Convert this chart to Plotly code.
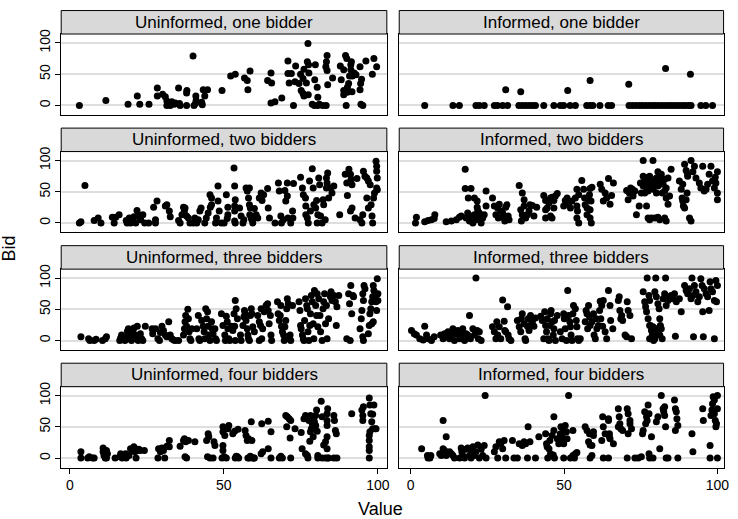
import plotly.graph_objects as go

titles = ["Uninformed, one bidder", "Informed, one bidder",
          "Uninformed, two bidders", "Informed, two bidders",
          "Uninformed, three bidders", "Informed, three bidders",
          "Uninformed, four bidders", "Informed, four bidders"]

uninformed_one = [(3.1,0),(11.7,8),(18.9,2),(22.7,2),(25.7,2),(21.9,15),(28.4,28),(28.4,15),(30.1,18),(31,14),
(31.5,7),(31.5,0),(32.6,0),(33.1,6),(33.9,2),(35.3,28),(34.2,4),(35.8,0),(35.6,3),(37.9,20),(38,24),(37.9,0),
(40,79),(40.3,0),(40.8,3),(41,8),(40.9,15),(43.3,25),(44.7,25),(42.8,5),(43,1),(43.8,15),(49.4,24),(52.2,47),
(53.7,50),(56.7,44),(57.6,40),(58.5,55),(57.8,25),(64.2,40),(65.3,52),(65.5,36),(65.3,4),(66.6,6),(68.8,12),
(70.8,71),(70.8,51),(71.9,51),(73.3,63),(71.2,36),(73.1,38),(72.6,0),(74.4,35),(74.9,50),(75.7,43),(76,58),
(77.3,99),(77.1,70),(77.5,65),(77.6,52),(76.8,36),(75.1,24),(75.7,19),(76,15),(77.4,17),(78.7,2),(79.4,0),
(80.5,0),(81,2),(82.1,0),(83.2,0),(79.7,65),(80.3,29),(80.5,13),(79.5,41),(83.3,70),(83.5,80),(83.1,62),
(83.5,56),(83.7,33),(85.3,44),(87.8,63),(88.1,41),(88.9,57),(88.9,24),(88.9,17),(89.5,80),(89.9,75),(89.7,0),
(90.1,29),(90.5,35),(90.8,47),(91.2,57),(91.4,70),(91.7,47),(91.6,22),(92.3,52),(92.9,49),(91.2,65),(94.2,25),
(94.4,35),(94.7,42),(94.5,2),(95.1,0),(94.2,62),(96.1,71),(98.2,50),(98.7,75),(99.6,62),(90.1,21)]

informed_one = [(4.6,0),(13.8,0),(15.9,0),(21.3,0),(22.4,0),(24,0),(27.3,0),(28.3,0),(30,0),(31.6,0),(35.3,0),
(36.4,0),(37.5,0),(38.6,0),(39.7,0),(40.7,0),(43.4,0),(46.7,0),(48.8,0),(49.9,0),(52,0),(53.7,0),(57.4,0),
(58.5,0),(59.4,0),(61.7,0),(64.4,0),(65.5,0),(71.2,0),(72.3,0),(73.4,0),(74.5,0),(75.5,0),(76.6,0),(77.7,0),
(78.8,0),(79.8,0),(80.9,0),(82,0),(83.1,0),(84.2,0),(85.2,0),(86.3,0),(87.4,0),(88.5,0),(89.5,0),(90.6,0),
(91.4,0),(94.6,0),(96.2,0),(98.4,0),(31,25),(35.9,22),(51.2,24),(58.5,40),(71.1,34),(83.1,59),(91.2,50)]

uninformed_two = [(3.1,0),(3.6,2),(4.9,60),(7.9,4),(9.2,8),(10.1,0),(13.8,9),(14.4,0),(14.9,9),(16,13),
(18.3,4),(18.6,0),(19.3,8),(19.7,0),(20,5),(20.8,10),(21.4,0),(21.8,20),(22.3,13),(22.7,8),(23,5),
(23.7,13),(24.3,0),(25.6,0),(27.2,25),(28.3,35),(27.8,5),(27.8,0),(31,27),(31.5,29),(32.3,19),(32.6,10),
(35.3,4),(35.8,0),(36.4,13),(36.9,25),(37.4,24),(37.2,19),(37.9,11),(38.5,8),(39,0),(40.1,0),(40.6,8),(41.2,0),
(41.7,5),(42.2,19),(42.6,24),(43.8,0),(44.3,8),(44.9,16),(45.6,25),(46,29),(46,40),(45.5,45),(47.3,0),(47.6,8),
(48.1,59),(48.1,35),(48.5,19),(49.2,0),(50.1,0),(50.8,45),(51.3,25),(51.3,13),(51.1,7),(53.3,88),(53.5,59),
(53.7,37),(53.5,27),(53.5,19),(53.5,3),(53.7,0),(55.1,24),(55.6,11),(56.2,0),(56.5,5),(57.2,56),(57.6,51),
(58,40),(58.3,56),(58.3,29),(58.6,24),(58.4,13),(58.9,8),(59.1,5),(59.4,0),(59.9,23),(60.5,13),(61,8),
(61.5,40),(62.1,48),(62.4,36),(62.9,45),(64.2,55),(64.8,8),(64.4,24),(66.6,0),(67.7,64),(68,51),(68.5,11),
(68.7,0),(69.3,5),(69.8,52),(70.1,35),(70.6,64),(70.6,43),(70.8,8),(71.7,0),(72.4,8),(72.6,63),(72.3,19),
(74.9,73),(75.5,56),(75.8,45),(76.6,27),(76.5,40),(76.6,13),(77.1,8),(77.4,0),(77.8,67),(78.1,19),(78.7,87),
(79,56),(79.2,29),(79.8,24),(80.1,36),(80.3,0),(80.5,13),(80.8,72),(81.1,61),(81.4,11),(81.9,0),(82.2,37),
(82.4,29),(82.9,5),(83.3,72),(83.5,64),(84,40),(84.6,56),(85.1,48),(85.7,59),(83.7,80),(83.3,56),(87.6,13),
(89.4,78),(89.9,64),(90.1,44),(90.6,86),(91.1,78),(91.3,70),(91.6,61),(91.1,19),(91.6,24),(92.6,8),(93.2,71),
(94.2,5),(94.8,0),(95.1,13),(95.3,83),(95.8,75),(96.4,72),(96.9,67),(96.4,40),(96.9,24),(97.5,61),(97.8,29),
(98.1,11),(98.3,0),(98.6,40),(98.9,48),(99.4,99),(99.6,91),(99.6,83),(99.8,72),(99.6,56),(99.8,53)]

informed_two = [(1.9,9),(1.6,0),(4.6,2),(5.7,4),(6.8,5),(7.9,13),(7.7,7),(11.6,2),(13.3,3),(14.9,5),(15.9,9),
(16.5,11),(17.8,86),(17.8,55),(19.7,55),(18.1,8),(18.6,16),(19.2,3),(19.7,11),(20.3,0),(20.8,13),(21.3,5),
(21.7,25),(21.9,20),(22.1,8),(22.4,16),(23,0),(23.5,8),(24,13),(24.6,27),(24.6,51),(18.8,40),(20.8,40),(21.7,35),
(26.7,40),(27.3,27),(27.8,13),(28.4,24),(28.6,8),(28.9,30),(29.4,19),(30,16),(30.5,8),(30.7,3),(31,25),(31.4,29),
(31.8,11),(32.1,5),(35.4,60),(35.9,21),(36.4,48),(37,37),(37,27),(36.4,13),(36.1,3),(37.5,8),(38.1,13),(38.6,19),
(38.9,29),(39.7,28),(40.2,11),(41.1,25),(43.4,44),(44,36),(44.5,24),(45.1,32),(45.6,40),(46.1,41),(46.7,36),
(47.2,43),(47.8,47),(44,8),(45.6,11),(46.1,8),(44,21),(46.7,24),(49.9,27),(50.4,36),(51,40),(51.5,30),(52.1,24),
(52.6,35),(53.7,40),(54.2,27),(54.4,19),(54.8,45),(54.2,54),(54.2,8),(54.8,0),(55.8,68),(56.4,54),(56.7,40),
(56.9,29),(57.5,24),(57.5,13),(58,37),(58.3,45),(58.5,55),(59.1,57),(58.8,35),(58.5,8),(58.9,0),(58.5,21),
(61.8,62),(62.3,54),(62.8,35),(63.4,48),(63.9,40),(64.5,71),(65,30),(65.5,44),(66.1,64),(70.4,52),(70.9,37),
(71.3,48),(71.7,56),(72.3,54),(72.5,43),(73.1,51),(73.6,13),(74.5,27),(75.2,48),(75.8,59),(76.3,70),(76.9,27),
(77.4,8),(75.8,100),(79,100),(77.9,5),(78.5,8),(79.6,8),(80.6,9),(81.2,5),(82.8,8),(83.3,3),(74.9,64),(75.8,75),
(76.3,62),(76.9,56),(77.4,73),(77.9,64),(78.5,68),(79,54),(79.6,62),(80.1,72),(80.6,82),(81.2,64),(81.7,78),
(82.3,62),(82.8,70),(83.3,56),(83.9,72),(84.4,43),(84.9,86),(83.3,40),(82.8,51),(83.9,30),(80.1,48),(82,48),
(76.9,70),(77.9,75),(78.5,59),(79.6,67),(80.6,59),(81.7,70),(77.4,51),(76.3,48),
(87.6,67),(88.2,54),(88.5,40),(88.7,35),(88.9,27),(89.3,24),(89.8,37),(90.1,48),(90.3,78),(90.9,8),(91.4,3),
(88.7,62),(89.3,94),(89.8,84),(90.3,75),(91.4,100),(92,82),(92.5,91),(93,72),(94.1,64),(94.6,56),(95.2,91),
(95.7,51),(96.3,54),(96.8,62),(97.3,78),(97.9,91),(98.4,67),(99,56),(99.3,73),(99.5,64),(100,48),(100,37),(100,82)]

uninformed_three = [(3.6,6),(6.1,3),(6.5,0),(7.9,0),(8.5,2),(10.6,0),(11.5,3),(11.9,6),(16.2,0),(16.5,4),(16.8,9),
(17.6,3),(17.9,0),(18.3,5),(18.7,15),(19,19),(19.2,9),(19.7,3),(20,0),(20.5,14),(20.8,20),(21.1,9),(21.5,3),
(21.9,23),(22.2,0),(22.4,6),(22.9,11),(23.3,3),(23.7,0),(24.5,23),(26.7,19),(26.9,11),(27.8,19),(28.6,3),(29.1,0),
(29.4,13),(29.9,23),(30.4,16),(31,9),(31.5,6),(32.1,30),(32.6,9),(33.1,3),(33.7,1),(34.2,0),(35.3,0),(36.9,9),
(37.2,19),(37.4,30),(37.6,40),(37.9,23),(38.3,50),(38.5,35),(38.7,14),(39,3),(39.3,0),(39.6,19),(41.2,19),(41.7,40),
(41.9,3),(42.2,0),(42.8,32),(43.3,23),(43.6,14),(43.8,3),(44.1,51),(44.4,35),(44.7,46),(44.9,23),(45.1,9),(45.5,0),
(46,30),(46.2,19),(46.5,11),(47.1,19),(47.3,3),(47.6,0),(49.2,43),(49.7,24),(50.3,9),(50.5,0),(50.8,39),(51.1,30),
(51.3,19),(51.6,3),(51.9,0),(52.4,23),(52.9,16),(53.3,43),(53.7,64),(54,51),(54.4,35),(53.5,23),(53.7,0),(55.4,9),
(55.6,0),(56.2,24),(56.5,38),(56.7,48),(56.9,43),(57.2,32),(57.6,19),(57.8,9),(58,3),(58.3,0),(58.6,40),(58.9,51),
(59.1,43),(59.4,22),(59.9,14),(61,40),(61.5,30),(61.9,24),(62.3,3),(62.6,19),(62.1,51),(61.5,0),(63.1,46),(63.7,56),
(64.2,59),(64.4,48),(64.7,27),(65.1,40),(65.3,9),(65.5,0),(67.4,62),(67.6,43),(68,32),(68.3,40),(68.5,56),(68.7,23),
(69,14),(69.4,9),(69.6,0),(69.8,22),(70.1,32),(70.4,51),(70.6,67),(70.9,59),(71.2,3),(71.5,9),(71.7,0),(72.3,56),
(74.4,62),(74.7,48),(74.9,24),(75.1,19),(75.5,9),(75.8,3),(76,0),(76.2,32),(76.5,67),(76.9,56),(77.1,51),(77.3,14),
(77.6,0),(77.9,24),(78.1,43),(78.4,72),(78.7,62),(79,27),(79.2,3),(79.4,80),(79.8,56),(80.1,40),(80.3,75),(80.5,22),
(80.8,67),(81.2,40),(81.4,14),(81.9,0),(82.2,51),(82.4,62),(82.7,75),(83,27),(83.3,56),(83.5,3),(84,35),(84.6,70),
(84.8,78),(85.1,64),(85.7,72),(86.2,62),(86.5,24),(86.7,54),(87.3,72),(89.9,3),(91,0),(90.5,75),(90.8,59),(91.2,88),
(91.5,43),(91.9,72),(92.1,70),(94.2,19),(94.6,35),(94.8,48),(95.1,75),(95.3,64),(95.5,88),(95.8,83),(95.1,6),
(95.3,0),(96.9,11),(97.2,24),(97.4,43),(97.7,51),(98,62),(98.3,70),(98.5,88),(98.7,80),(99.1,72),(99.4,62),
(99.6,48),(99.8,99),(100,75),(100,64),(98.5,30),(98,27)]

informed_three = [(0.3,16),(1.2,11),(1.9,9),(3,3),(4.1,1),(4.6,23),(5.2,9),(5.7,3),(6.8,0),(7.7,6),(9.8,9),(10.6,3),
(11.1,11),(11.6,6),(12.2,14),(12.7,3),(13.3,9),(13.8,19),(14.3,0),(14.9,11),(15.4,16),(16,3),(16.5,9),(17,19),
(17.6,0),(18.1,11),(18.6,9),(19.2,40),(19.5,3),(20.3,19),(20.8,9),(21.3,100),(21.7,16),(22.1,3),(22.4,14),(23,0),
(26.7,22),(27.3,14),(27.8,3),(28.1,30),(28.4,9),(28.9,22),(29.4,3),(30,65),(30.5,31),(30.7,16),(31,14),(31.6,54),
(31.8,9),(32.1,3),(32.7,0),(34.8,32),(35.4,22),(35.9,14),(36.1,35),(36.4,43),(37,27),(37.3,3),(37.5,0),(38.1,23),
(38.3,35),(38.6,16),(38.9,24),(39.1,40),(39.7,30),(40.2,23),(40.7,36),(42.4,39),(42.9,32),(43.4,3),(43.7,46),
(44,24),(44.3,14),(44.5,35),(44.7,3),(45.1,0),(45.4,24),(45.6,43),(45.8,48),(46.1,30),(46.5,9),(46.7,19),(46.9,32),
(47.2,0),(47.8,40),(48.8,14),(49.4,3),(49.9,43),(50.1,35),(50.4,19),(50.8,0),(51.2,80),(51.5,40),(51.9,30),
(52.1,22),(52.3,9),(52.6,0),(52.9,43),(53.1,56),(53.7,51),(54,32),(54.2,22),(54.4,3),(54.8,0),(55.3,3),(56.9,30),
(57.2,48),(57.5,43),(57.7,19),(58,56),(58.3,38),(58.5,24),(59.1,30),(59.6,43),(59.8,9),(60.2,3),(60.5,35),(60.7,19),
(61.2,24),(61.6,48),(61.8,63),(62,35),(62.3,56),(62.6,23),(62.8,64),(63.4,14),(63.9,3),(64.5,80),(65,56),(65.2,32),
(65.9,19),(67.7,64),(68,70),(68.2,48),(68.5,35),(68.8,40),(69.1,32),(69.9,9),(70.4,6),(70.6,62),(70.9,48),(71.5,40),
(72,3),(75.8,78),(76.3,62),(76.6,54),(76.9,46),(77.1,100),(77.4,35),(77.7,72),(77.9,64),(78.2,24),(78.5,16),
(78.8,9),(79,3),(79.2,0),(79.6,78),(79.9,100),(80.1,70),(80.6,59),(81,51),(81.2,35),(81.4,24),(81.7,19),(82,3),
(82.3,67),(82.8,75),(83.1,100),(83.3,56),(83.9,64),(84.4,70),(84.9,72),(85.5,67),(86,75),(86.3,7),(86.6,62),
(87.6,67),(88.2,46),(89.3,88),(89.8,80),(90.3,75),(90.9,83),(91.4,67),(92,72),(91.7,100),(92.2,6),(92.5,88),
(93,78),(93.6,62),(94.1,70),(94.6,99),(95,88),(95.2,46),(95.4,6),(95.7,83),(96.3,75),(96.8,70),(97.3,48),(97.6,94),
(97.9,83),(98.4,78),(99,3),(99,64),(99.5,96),(99.7,62),(100,88),(77.9,24),(79,22),(80.1,19),(80.6,11),(81.2,9),
(77.9,3),(79.6,3)]

uninformed_four = [(3.6,10),(3.6,0),(5.8,0),(6.3,2),(7.4,0),(7.9,0),(10.8,16),(10.8,10),(11.1,4),(11.5,0),(11.9,12),
(12.2,7),(11.9,0),(14.7,0),(16.2,2),(16.5,7),(17,0),(17.6,4),(18.1,7),(18.3,0),(19.2,4),(19.7,15),(20.3,12),
(20.8,18),(21.1,10),(21.5,0),(21.9,12),(22.4,14),(22.9,12),(24.2,12),(28.6,0),(28.8,15),(29.4,10),(29.9,16),
(30.4,12),(30.8,0),(31.5,19),(32.3,28),(32.3,18),(35.8,19),(36.9,28),(37.2,31),(37.6,26),(37.9,0),(37.4,2),
(38.5,28),(40.6,26),(44.4,28),(44.7,2),(44.9,39),(45.1,34),(45.5,0),(46.5,0),(46.8,26),(47.1,20),(49.4,0),
(49.7,20),(49.7,12),(49.7,42),(49.7,50),(50.3,36),(50.1,2),(50.8,0),(51.3,47),(51.6,52),(52.9,39),(53.5,43),
(53.7,0),(54,3),(54.4,2),(54.6,46),(54.8,0),(56.9,44),(57.2,36),(57.6,28),(57.8,0),(58,31),(58.3,0),(58.6,3),
(58.9,58),(59.1,28),(59.4,0),(59.7,0),(59.9,0),(62.1,7),(62.6,10),(62.3,55),(64.4,59),(64.4,15),(65.3,42),
(65.3,0),(68,0),(68.5,3),(69,0),(70.1,68),(70.4,50),(70.6,66),(71.2,63),(71.5,32),(71.7,60),(71.7,0),(73.1,47),
(75.1,41),(75.4,15),(76,63),(76.5,68),(76.5,7),(77.1,4),(77.3,0),(77.6,60),(77.9,27),(78.1,68),(78.1,42),
(78.4,47),(78.7,55),(79,34),(79.2,66),(79.4,58),(79.8,52),(79.8,68),(80.1,77),(80.3,43),(80.5,4),(80.5,0),
(81.6,91),(81.9,66),(81.9,0),(82.4,21),(83,26),(83,0),(83.5,71),(83.5,60),(83.5,52),(83.5,34),(83.5,15),(83.7,0),
(84,0),(83.7,79),(85.7,68),(85.9,60),(86.2,44),(86.5,39),(86.7,0),(85.7,0),(91.5,71),(94.8,77),(95.1,68),
(95.1,60),(95.3,82),(97.2,96),(97.4,85),(97.7,71),(98,58),(98.3,47),(97.2,36),(97.2,28),(97.2,18),(97.2,12),
(97.2,0),(98.7,85),(98.3,70),(99.1,47),(99.4,47),(97.4,42)]

informed_four = [(3.6,15),(5.5,4),(5.7,0),(6.3,0),(6.6,4),(9.5,7),(10,4),(10.6,15),(10.6,60),(11.1,12),(11.6,34),
(11.6,4),(12.7,10),(13.3,7),(13.8,4),(14.3,0),(16,0),(16.5,16),(16.7,10),(17,4),(17.6,0),(18.1,14),(18.6,16),
(19.2,4),(19.7,0),(19.9,12),(20.3,18),(20.8,4),(21.3,10),(21.9,21),(22.4,0),(23,14),(23.5,4),(24,20),(24.3,100),
(24.6,0),(27.3,10),(27.8,18),(28.4,0),(28.9,26),(29.4,23),(30,15),(30.5,28),(31,0),(33.2,28),(33.7,0),(34.8,0),
(35.4,23),(36.4,20),(37,26),(37.5,23),(38.1,0),(38.3,50),(38.9,26),(40.7,0),(41.8,34),(44,39),(44.3,23),(44.5,18),
(44.7,0),(45.1,15),(45.4,28),(45.6,7),(45.8,4),(46.1,36),(46.5,5),(46.7,66),(46.7,44),(46.9,0),(47.8,31),(48.3,23),
(48.8,39),(49,50),(49.4,34),(49.4,28),(49.7,26),(49.9,44),(49.9,23),(50.4,52),(50.8,42),(51,31),(51.5,100),
(49.9,0),(52.1,0),(52.9,4),(53.7,7),(54.2,9),(52.9,44),(53.4,0),(56.9,50),(57.5,44),(58,26),(58.3,39),(58.5,21),
(58.5,0),(59.1,20),(59.1,4),(59.6,42),(59.6,36),(62.3,28),(62.6,66),(62.8,50),(62.8,0),(63.4,39),(64.5,63),
(64.5,60),(64.8,39),(64.8,34),(65,31),(64.5,0),(66.1,23),(67.7,79),(68,66),(68.2,55),(67.7,50),(68.5,47),(69.1,44),
(70.6,79),(70.6,0),(70.9,71),(71.5,60),(71.5,55),(70.9,39),(72,47),(73.1,0),(74.2,0),(75.2,2),(75.6,39),(75.8,44),
(76.3,74),(76.6,55),(76.9,66),(77.1,60),(77.4,85),(77.7,71),(77.7,7),(77.9,0),(78.5,34),(79,0),(80.1,58),(80.6,66),
(81.2,15),(81.7,100),(82.3,79),(82.5,74),(82.8,68),(83.1,50),(83.3,0),(83.9,0),(82.8,82),(86,93),(86.3,79),
(86.6,74),(86.8,63),(87.1,52),(86.3,44),(87.1,0),(91.7,39),(92,10),(95.2,79),(95.4,60),(97.6,20),(97.6,0),
(97.9,68),(98.2,77),(98.4,87),(98.6,98),(99,71),(99.3,60),(99.5,50),(99.7,55),(100,0),(100,100),(100,79),(99,93)]

panel_data = [uninformed_one, informed_one, uninformed_two, informed_two,
              uninformed_three, informed_three, uninformed_four, informed_four]

x_ticks = [0, 50, 100]
y_ticks = [0, 50, 100]

W, H = 738, 519
col_px = [(61.7, 390.0), (402.5, 729.5)]
col_range = [[-2.8, 102.9], [-3.7, 102.0]]
row_pitch = 118.7
plot_top0, plot_bot0, head_top0 = 29.3, 111.0, 5.6
y_range = [-15.2, 114.3]

FONT = "Liberation Sans, Arial, sans-serif"
fig = go.Figure()
layout = dict(width=W, height=H, margin=dict(l=0, r=0, t=0, b=0),
              paper_bgcolor="white", plot_bgcolor="white", showlegend=False,
              font=dict(family=FONT, color="black"))
shapes, annotations = [], []

for i, pts in enumerate(panel_data):
    r, c = divmod(i, 2)
    n = i + 1
    xa = "xaxis" if n == 1 else f"xaxis{n}"
    ya = "yaxis" if n == 1 else f"yaxis{n}"
    xs = [p[0] for p in pts]
    ys = [p[1] for p in pts]
    fig.add_trace(go.Scatter(x=xs, y=ys, mode="markers",
                             marker=dict(color="black", size=7, line=dict(width=0)),
                             xaxis=f"x{'' if n == 1 else n}", yaxis=f"y{'' if n == 1 else n}"))
    x0p, x1p = col_px[c]
    top = plot_top0 + r * row_pitch
    bot = plot_bot0 + r * row_pitch
    htop = head_top0 + r * row_pitch
    xd = [x0p / W, x1p / W]
    yd = [1 - bot / H, 1 - top / H]
    layout[xa] = dict(domain=xd, range=col_range[c], anchor=f"y{'' if n == 1 else n}",
                      showgrid=False, zeroline=False, showline=True, mirror=True,
                      linecolor="black", linewidth=1,
                      tickvals=x_ticks, showticklabels=(r == 3),
                      ticks="outside" if r == 3 else "", ticklen=5, tickcolor="black",
                      tickfont=dict(size=14, family=FONT))
    layout[ya] = dict(domain=yd, range=y_range, anchor=f"x{'' if n == 1 else n}",
                      showgrid=True, gridcolor="#dedede", gridwidth=1.5, zeroline=False,
                      showline=True, mirror=True, linecolor="black", linewidth=1,
                      tickvals=y_ticks, showticklabels=(c == 0), tickangle=-90,
                      ticks="outside" if c == 0 else "", ticklen=5, tickcolor="black",
                      tickfont=dict(size=14, family=FONT))
    shapes.append(dict(type="rect", xref="paper", yref="paper",
                       x0=xd[0], x1=xd[1], y0=1 - top / H, y1=1 - htop / H,
                       fillcolor="#d9d9d9", line=dict(color="black", width=1), layer="above"))
    annotations.append(dict(text=titles[i], xref="paper", yref="paper",
                            x=(xd[0] + xd[1]) / 2, y=1 - (top + htop) / 2 / H,
                            xanchor="center", yanchor="middle", showarrow=False,
                            font=dict(size=17, family=FONT, color="black")))

annotations.append(dict(text="Bid", xref="paper", yref="paper", x=9 / W, y=1 - 246 / H,
                        textangle=-90, showarrow=False, xanchor="center", yanchor="middle",
                        font=dict(size=18, family=FONT, color="black")))
annotations.append(dict(text="Value", xref="paper", yref="paper", x=384 / W, y=1 - 509 / H,
                        showarrow=False, xanchor="center", yanchor="middle",
                        font=dict(size=18, family=FONT, color="black")))
layout["shapes"] = shapes
layout["annotations"] = annotations
fig.update_layout(**layout)
fig.write_html("out.html")
